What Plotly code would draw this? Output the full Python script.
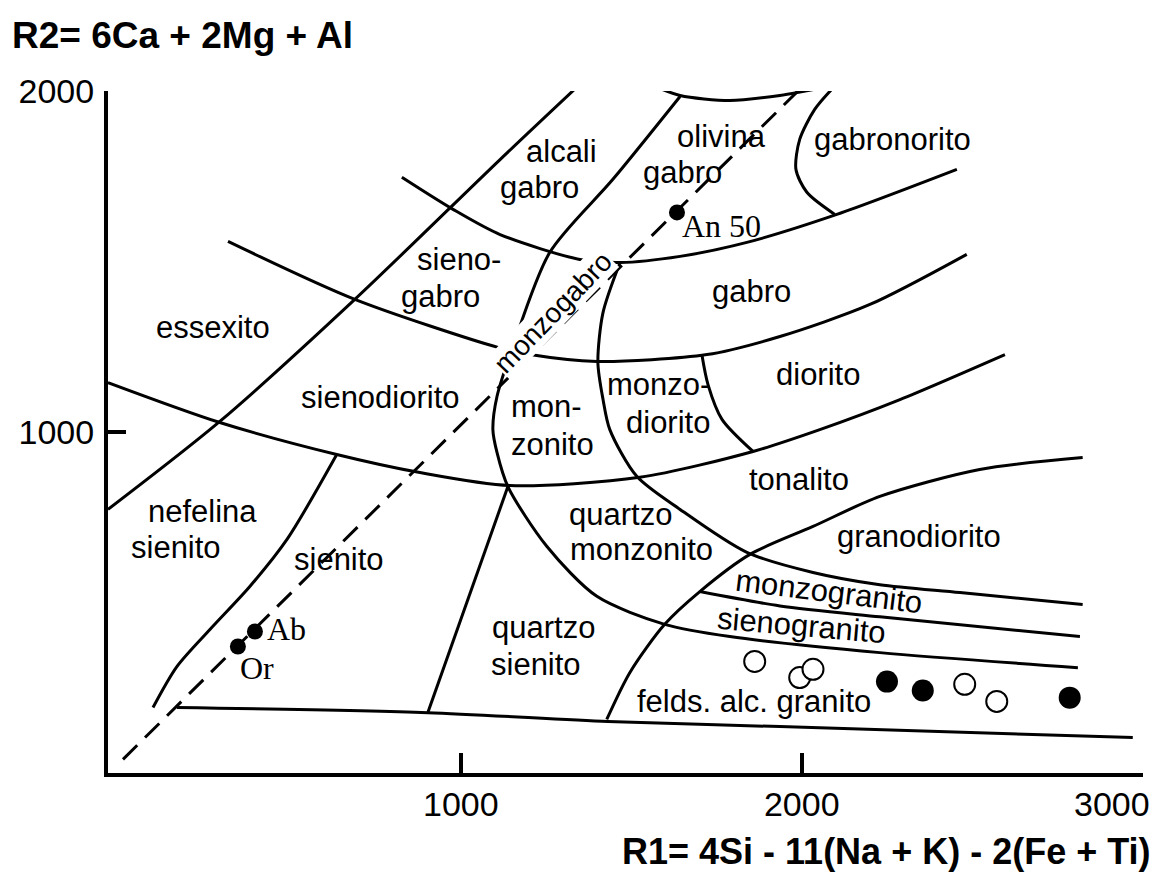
import plotly.graph_objects as go

# ---------------- data (R1, R2) ----------------
# dashed alkali-feldspar / plagioclase line
dash_x = [9, 1994]
dash_y = [40, 2005]

# boundary curves
b1_x = [-35, 293, 689, 1115, 1340]
b1_y = [773, 1031, 1389, 1799, 2011]

b2_x = [-35, 293, 636, 880, 1144, 1525, 1857, 2053, 2288, 2596]
b2_y = [1145, 1028, 934, 881, 843, 867, 943, 1007, 1095, 1227]

b3_x = [317, 689, 1109, 1203, 1399, 1722, 1936, 2200, 2484]
b3_y = [1559, 1389, 1248, 1227, 1207, 1227, 1280, 1374, 1521]

b4_x = [827, 977, 1115, 1349, 1467, 1643, 1839, 2103, 2455]
b4_y = [1747, 1653, 1579, 1506, 1497, 1515, 1556, 1638, 1770]

b5_x = [1575, 1643, 1789, 1936, 2053]
b5_y = [2011, 1987, 1972, 1987, 2008]

b6_x = [1643, 1446, 1261, 1153, 1106, 1094, 1106, 1138, 1252, 1399, 1598, 1789, 2229, 2810]
b6_y = [1984, 1741, 1527, 1251, 1104, 1007, 940, 840, 665, 518, 436, 400, 353, 309]

b7_x = [1467, 1417, 1402, 1417, 1437, 1516, 1643, 1839, 2033, 2229, 2464, 2824]
b7_y = [1497, 1350, 1204, 1096, 1007, 870, 773, 647, 588, 552, 529, 494]

b8_x = [1707, 1725, 1766, 1857]
b8_y = [1227, 1139, 1037, 943]

b9_x = [2088, 2038, 1994, 1983, 2015, 2097]
b9_y = [2005, 1946, 1858, 1770, 1703, 1638]

b10_x = [97, 167, 264, 381, 490, 636]
b10_y = [192, 312, 421, 547, 685, 934]

b11_x = [903, 1138]
b11_y = [177, 840]

b12_x = [1428, 1496, 1598, 1701, 1848, 2033, 2229, 2522, 2824]
b12_y = [157, 295, 436, 532, 641, 723, 811, 890, 925]

b13_x = [167, 903, 1431, 1936, 2971]
b13_y = [192, 177, 151, 136, 104]

b14_x = [1701, 1936, 2229, 2816]
b14_y = [532, 490, 458, 400]

curves = [(b1_x, b1_y), (b2_x, b2_y), (b3_x, b3_y), (b4_x, b4_y), (b5_x, b5_y),
          (b6_x, b6_y), (b7_x, b7_y), (b8_x, b8_y), (b9_x, b9_y), (b10_x, b10_y),
          (b11_x, b11_y), (b12_x, b12_y), (b13_x, b13_y), (b14_x, b14_y)]

# reference minerals
ref_names = ["Or", "Ab", "An 50"]
ref_x = [346, 396, 1634]
ref_y = [371, 415, 1644]
ref_label_x = [346, 425, 1643]
ref_label_y = [309, 421, 1603]

# samples
open_x = [1862, 1994, 2033, 2478, 2572]
open_y = [327, 280, 304, 260, 210]
filled_x = [2250, 2355, 2786]
filled_y = [268, 242, 221]

# field names
field_names = ["alcali", "gabro", "olivina", "gabro", "gabronorito", "sieno-", "gabro",
               "essexito", "gabro", "sienodiorito", "mon-", "zonito", "monzo-", "diorito",
               "diorito", "tonalito", "nefelina", "sienito", "sienito", "quartzo",
               "monzonito", "granodiorito", "quartzo", "sienito", "felds. alc. granito"]
field_x = [1296, 1232, 1766, 1651, 2267, 994, 939, 273, 1854, 763, 1252, 1270, 1581, 1607,
           2047, 1991, 243, 164, 642, 1467, 1531, 2343, 1241, 1220, 1860]
field_y = [1823, 1717, 1867, 1761, 1858, 1506, 1398, 1307, 1412, 1101, 1075, 963, 1139, 1028,
           1169, 861, 767, 661, 626, 758, 656, 694, 427, 318, 210]

tilted_names = ["monzogranito", "sienogranito"]
tilted_x = [2080, 2000]
tilted_y = [532, 433]
tilted_angle = [7, 5]

x_ticks = [1000, 2000, 3000]
x_ticktext = ["1000", "2000", ""]
y_ticks = [1000, 2000]

SANS = "Liberation Sans, Arial, sans-serif"
SERIF = "Liberation Serif, Times New Roman, serif"

fig = go.Figure()

for cx, cy in curves:
    fig.add_trace(go.Scatter(x=cx, y=cy, mode="lines",
                             line=dict(color="black", width=3, shape="spline", smoothing=0.8),
                             hoverinfo="skip", showlegend=False))

fig.add_trace(go.Scatter(x=dash_x, y=dash_y, mode="lines",
                         line=dict(color="black", width=3, dash="20px,11px"),
                         hoverinfo="skip", showlegend=False))

fig.add_trace(go.Scatter(x=ref_x, y=ref_y, mode="markers",
                         marker=dict(color="black", size=16),
                         showlegend=False))
fig.add_trace(go.Scatter(x=open_x, y=open_y, mode="markers",
                         marker=dict(color="white", size=21, line=dict(color="black", width=2)),
                         showlegend=False))
fig.add_trace(go.Scatter(x=filled_x, y=filled_y, mode="markers",
                         marker=dict(color="black", size=22),
                         showlegend=False))

for name, x, y in zip(field_names, field_x, field_y):
    fig.add_annotation(x=x, y=y, text=name, showarrow=False,
                       font=dict(family=SANS, size=31, color="black"))

for name, x, y, a in zip(tilted_names, tilted_x, tilted_y, tilted_angle):
    fig.add_annotation(x=x, y=y, text=name, showarrow=False, textangle=a,
                       font=dict(family=SANS, size=31, color="black"))

fig.add_annotation(x=1270, y=1351, text="monzogabro", showarrow=False, textangle=-46,
                   bgcolor="white", borderpad=0,
                   font=dict(family=SANS, size=28, color="black"))

for name, x, y in zip(ref_names, ref_label_x, ref_label_y):
    fig.add_annotation(x=x, y=y, text=name, showarrow=False, xanchor="left",
                       font=dict(family=SERIF, size=32, color="black"))

# last x tick label, kept inside the figure like the reference
fig.add_annotation(x=2910, y=-0.045, yref="paper", text="3000", showarrow=False,
                   yanchor="middle", font=dict(family=SANS, size=34, color="black"))

# axis titles
fig.add_annotation(xref="paper", yref="paper", x=-0.0947, y=1.082, xanchor="left",
                   yanchor="middle", showarrow=False, text="<b>R2= 6Ca + 2Mg + Al</b>",
                   font=dict(family=SANS, size=37, color="black"))
fig.add_annotation(xref="paper", yref="paper", x=1.0097, y=-0.1158, xanchor="right",
                   yanchor="middle", showarrow=False,
                   text="<b>R1= 4Si - 11(Na + K) - 2(Fe + Ti)</b>",
                   font=dict(family=SANS, size=36, color="black"))

fig.update_xaxes(range=[-35, 3001], showgrid=False, zeroline=False, showline=True,
                 linecolor="black", linewidth=4, ticks="inside", ticklen=20, tickwidth=4,
                 tickcolor="black", tickvals=x_ticks, ticktext=x_ticktext,
                 tickfont=dict(family=SANS, size=34, color="black"), ticklabelstandoff=-2)
fig.update_yaxes(range=[0, 2000], showgrid=False, zeroline=False, showline=True,
                 linecolor="black", linewidth=4, ticks="inside", ticklen=18, tickwidth=4,
                 tickcolor="black", tickvals=y_ticks, ticktext=[str(v) for v in y_ticks],
                 tickfont=dict(family=SANS, size=34, color="black"), ticklabelstandoff=3)

fig.update_layout(width=1153, height=870, margin=dict(l=100, r=18, t=83, b=105),
                  paper_bgcolor="white", plot_bgcolor="white", showlegend=False)

fig.write_html("out.html")
